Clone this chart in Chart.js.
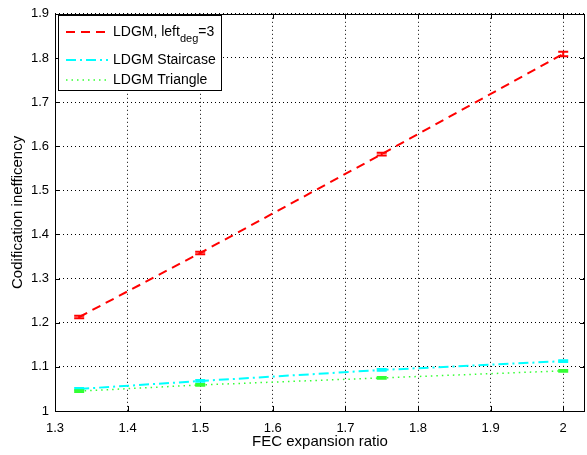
<!DOCTYPE html>
<html><head><meta charset="utf-8">
<script src="https://cdn.jsdelivr.net/npm/chart.js@4/dist/chart.umd.min.js"></script>
<style>html,body{margin:0;padding:0;background:#fff}#w{width:587px;height:455px;position:relative}</style>
</head><body><div id="w"><canvas id="c"></canvas></div>
<script>
const xValues = [1.3333, 1.5, 1.75, 2.0];
const ldgmLeft3 = [1.213, 1.358, 1.582, 1.809];
const ldgmLeft3Err = [0.003, 0.003, 0.003, 0.005];
const ldgmStaircase = [1.050, 1.068, 1.093, 1.113];
const ldgmStaircaseErr = [0.002, 0.002, 0.002, 0.002];
const ldgmTriangle = [1.045, 1.059, 1.075, 1.091];
const ldgmTriangleErr = [0.002, 0.002, 0.002, 0.002];
const xTicks = [1.3, 1.4, 1.5, 1.6, 1.7, 1.8, 1.9, 2.0];
const yTicks = [1.0, 1.1, 1.2, 1.3, 1.4, 1.5, 1.6, 1.7, 1.8, 1.9];
const seriesNames = ["LDGM, left", "LDGM Staircase", "LDGM Triangle"];

const FONT = "'Liberation Sans', Arial, sans-serif";
const pts = ys => xValues.map((x, i) => ({x: x, y: ys[i]}));

const errPlugin = {
  id: 'err',
  afterDatasetsDraw(chart) {
    const ctx = chart.ctx, xs = chart.scales.x, ys = chart.scales.y;
    chart.data.datasets.forEach(ds => {
      ctx.save();
      ctx.strokeStyle = ds.borderColor; ctx.lineWidth = 2; ctx.setLineDash([]);
      ds.data.forEach((p, i) => {
        const px = xs.getPixelForValue(p.x);
        const e = ds.errs[i];
        const t = ys.getPixelForValue(p.y + e), b = ys.getPixelForValue(p.y - e);
        ctx.beginPath();
        ctx.moveTo(px, t); ctx.lineTo(px, b);
        ctx.moveTo(px - 5, t); ctx.lineTo(px + 5, t);
        ctx.moveTo(px - 5, b); ctx.lineTo(px + 5, b);
        ctx.stroke();
      });
      ctx.restore();
    });
  }
};

const framePlugin = {
  id: 'frame',
  afterDraw(chart) {
    const ctx = chart.ctx, a = chart.chartArea, xs = chart.scales.x, ys = chart.scales.y;
    ctx.save();
    ctx.strokeStyle = '#000'; ctx.lineWidth = 1; ctx.setLineDash([]);
    ctx.strokeRect(Math.round(a.left) + 0.5, Math.round(a.top) + 0.5, Math.round(a.right - a.left) - 1, Math.round(a.bottom - a.top));
    ctx.beginPath();
    xTicks.forEach(v => {
      const px = Math.round(xs.getPixelForValue(v)) + 0.5;
      ctx.moveTo(px, a.bottom); ctx.lineTo(px, a.bottom - 5);
      ctx.moveTo(px, a.top); ctx.lineTo(px, a.top + 5);
    });
    yTicks.forEach(v => {
      const py = Math.round(ys.getPixelForValue(v)) + 0.5;
      ctx.moveTo(a.left, py); ctx.lineTo(a.left + 5, py);
      ctx.moveTo(a.right, py); ctx.lineTo(a.right - 5, py);
    });
    ctx.stroke();
    // legend
    const lx = 58, ly = 15, lw = 163, lh = 75;
    ctx.fillStyle = '#fff';
    ctx.fillRect(lx, ly, lw, lh);
    ctx.strokeRect(lx + 0.5, ly + 0.5, lw, lh);
    const rows = [ly + 17, ly + 45, ly + 65];
    chart.data.datasets.forEach((ds, i) => {
      ctx.strokeStyle = ds.borderColor; ctx.lineWidth = ds.borderWidth;
      ctx.setLineDash(ds.borderDash);
      ctx.beginPath(); ctx.moveTo(lx + 8, rows[i]); ctx.lineTo(lx + 50, rows[i]); ctx.stroke();
    });
    ctx.setLineDash([]);
    ctx.fillStyle = '#000'; ctx.textBaseline = 'middle'; ctx.textAlign = 'left';
    ctx.font = '14px ' + FONT;
    let tx = lx + 55;
    ctx.fillText(seriesNames[0], tx, rows[0]);
    let w = ctx.measureText(seriesNames[0]).width;
    ctx.font = '11px ' + FONT;
    ctx.fillText('deg', tx + w, rows[0] + 7);
    let w2 = ctx.measureText('deg').width;
    ctx.font = '14px ' + FONT;
    ctx.fillText('=3', tx + w + w2, rows[0]);
    ctx.fillText(seriesNames[1], tx, rows[1]);
    ctx.fillText(seriesNames[2], tx, rows[2]);
    ctx.restore();
  }
};

new Chart(document.getElementById('c'), {
  type: 'line',
  data: {
    datasets: [
      {label: seriesNames[0], data: pts(ldgmLeft3), errs: ldgmLeft3Err, borderColor: '#ff0000', borderWidth: 2, borderDash: [9, 6], pointRadius: 0, fill: false, tension: 0},
      {label: seriesNames[1], data: pts(ldgmStaircase), errs: ldgmStaircaseErr, borderColor: '#00ffff', borderWidth: 2, borderDash: [10, 4, 2, 4], pointRadius: 0, fill: false, tension: 0},
      {label: seriesNames[2], data: pts(ldgmTriangle), errs: ldgmTriangleErr, borderColor: '#33ff33', borderWidth: 1.5, borderDash: [1.5, 4], pointRadius: 0, fill: false, tension: 0}
    ]
  },
  options: {
    responsive: true, maintainAspectRatio: false, animation: false,
    layout: {padding: {top: 12, right: 2, left: 0, bottom: 0}},
    plugins: {legend: {display: false}, tooltip: {enabled: false}},
    scales: {
      x: {
        type: 'linear', min: 1.3, max: 2.03,
        afterBuildTicks: s => { s.ticks = xTicks.map(v => ({value: v})); },
        afterFit: s => { s.height = 44; },
        ticks: {color: '#000', font: {family: FONT, size: 13}, padding: 10, callback: v => String(+v.toFixed(1))},
        grid: {color: '#000', lineWidth: 1, drawTicks: false},
        border: {display: false, dash: [1, 3]},
        title: {display: true, text: 'FEC expansion ratio', color: '#000', font: {family: FONT, size: 15}, padding: {top: 0, bottom: 4}}
      },
      y: {
        type: 'linear', min: 1.0, max: 1.9,
        afterBuildTicks: s => { s.ticks = yTicks.map(v => ({value: v})); },
        afterFit: s => { s.width = 55; },
        ticks: {color: '#000', font: {family: FONT, size: 13}, padding: 6, callback: v => String(+v.toFixed(1))},
        grid: {color: '#000', lineWidth: 1, drawTicks: false},
        border: {display: false, dash: [1, 3]},
        title: {display: true, text: 'Codification inefficency', color: '#000', font: {family: FONT, size: 15}, padding: {top: 9, bottom: 0}}
      }
    }
  },
  plugins: [errPlugin, framePlugin]
});
</script></body></html>
